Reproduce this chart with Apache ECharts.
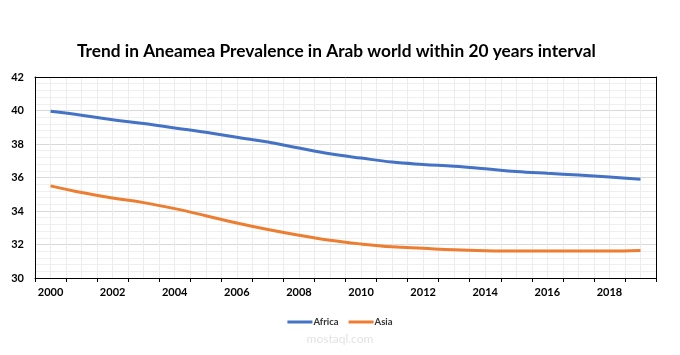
<!DOCTYPE html>
<html>
<head>
<meta charset="utf-8">
<script src="https://cdn.jsdelivr.net/npm/echarts@6/dist/echarts.min.js"></script>
<style>html,body{margin:0;padding:0;background:#fff}#c{width:680px;height:355px}</style>
</head>
<body>
<div id="c"></div>
<script>
var years = ['2000','2001','2002','2003','2004','2005','2006','2007','2008','2009','2010','2011','2012','2013','2014','2015','2016','2017','2018','2019'];
var africa = [39.95,39.72,39.45,39.22,38.96,38.7,38.4,38.12,37.76,37.42,37.16,36.92,36.78,36.67,36.52,36.36,36.25,36.15,36.03,35.89];
var asia = [35.5,35.1,34.78,34.5,34.14,33.72,33.28,32.89,32.55,32.25,32.03,31.86,31.77,31.68,31.63,31.61,31.61,31.61,31.61,31.64];
var yTicks = {min: 30, max: 42, step: 2};
var titleText = 'Trend in Aneamea Prevalence in Arab world within 20 years interval';

var font = 'Lato, "Open Sans", sans-serif';
var chart = echarts.init(document.getElementById('c'), null, {renderer: 'canvas'});
chart.setOption({
  animation: false,
  backgroundColor: '#fff',
  title: {
    text: titleText, left: 72, top: 38,
    textStyle: {fontFamily: font, fontWeight: 'bold', fontSize: 17.3, color: '#000'}
  },
  legend: {
    data: ['Africa', 'Asia'], left: 'center', top: 312,
    icon: 'rect', itemWidth: 25, itemHeight: 3, itemGap: 10,
    textStyle: {fontFamily: font, fontWeight: 'bold', fontSize: 9.5, color: '#333', padding: [0, 0, 0, -4]}
  },
  grid: {left: 35, right: 24, top: 77, bottom: 77, show: false},
  xAxis: [{
    type: 'category', data: years, boundaryGap: true,
    axisLine: {lineStyle: {color: '#000'}},
    axisTick: {show: true, interval: 0, length: 4, lineStyle: {color: '#000'}},
    axisLabel: {interval: 1, fontFamily: font, fontWeight: 'bold', fontSize: 11, color: '#000', margin: 9},
    splitLine: {show: true, interval: 0, showMinLine: false, showMaxLine: false, lineStyle: {color: '#d9d9d9'}}
  }, {
    type: 'value', min: 0, max: years.length * 2, interval: 1,
    show: true, position: 'top',
    axisLine: {show: true, lineStyle: {color: '#000'}}, axisTick: {show: false}, axisLabel: {show: false},
    splitLine: {show: true, showMinLine: false, showMaxLine: false, lineStyle: {color: '#ececec'}}
  }],
  yAxis: [{
    type: 'value', min: yTicks.min, max: yTicks.max, interval: yTicks.step,
    axisLine: {show: true, lineStyle: {color: '#000'}},
    axisTick: {show: false},
    axisLabel: {fontFamily: font, fontWeight: 'bold', fontSize: 11, color: '#000', margin: 11},
    splitLine: {showMinLine: false, showMaxLine: false, lineStyle: {color: '#d9d9d9'}},
    minorTick: {show: false, splitNumber: 5},
    minorSplitLine: {show: true, lineStyle: {color: '#efefef'}}
  }, {
    type: 'value', min: yTicks.min, max: yTicks.max, interval: yTicks.step, position: 'right',
    axisLine: {show: true, lineStyle: {color: '#000'}},
    axisTick: {show: false}, axisLabel: {show: false}, splitLine: {show: false}
  }],
  series: [{
    name: 'Africa', type: 'line', data: africa, smooth: 0.4, showSymbol: false,
    xAxisIndex: 0, lineStyle: {width: 3, color: '#4472C4'}, itemStyle: {color: '#4472C4'}
  }, {
    name: 'Asia', type: 'line', data: asia, smooth: 0.4, showSymbol: false,
    xAxisIndex: 0, lineStyle: {width: 3, color: '#ED7D31'}, itemStyle: {color: '#ED7D31'}
  }],
  graphic: [{
    type: 'text', left: 'center', top: 333, silent: true,
    style: {text: 'mostaql.com', fontFamily: font, fontSize: 12, fill: '#e3e3e3'}
  }]
});
</script>
</body>
</html>
